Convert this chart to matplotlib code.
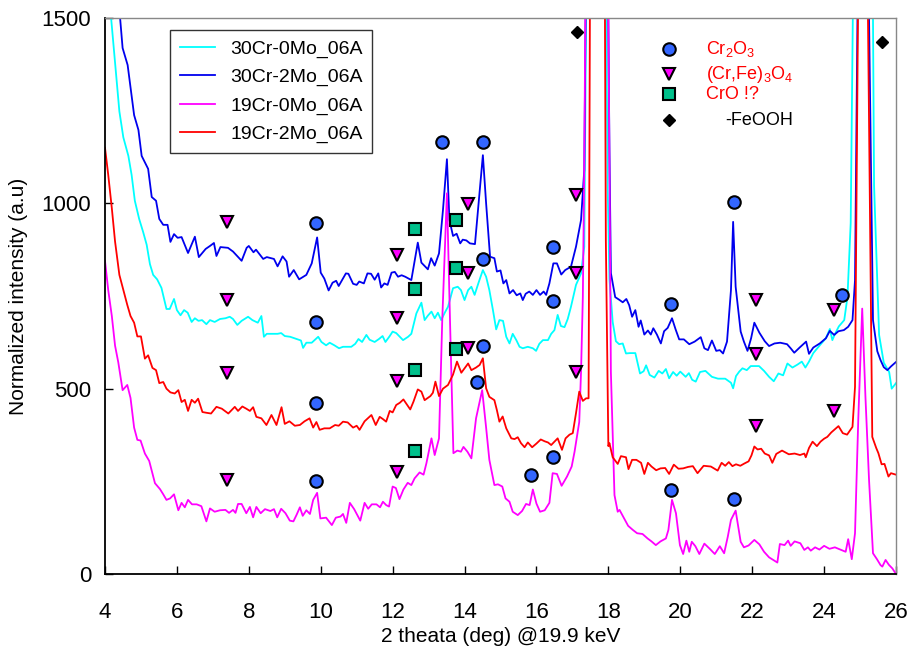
import matplotlib
matplotlib.use('Agg')
import matplotlib.pyplot as plt

plt.rcParams['font.family'] = ['Liberation Sans', 'DejaVu Sans']
plt.rcParams['mathtext.fontset'] = 'custom'
plt.rcParams['mathtext.rm'] = 'Liberation Sans'
plt.rcParams['mathtext.it'] = 'Liberation Sans:italic'

# ---------------- data ----------------
series_names = ['30Cr-0Mo_06A', '30Cr-2Mo_06A', '19Cr-0Mo_06A', '19Cr-2Mo_06A']
series_colors = ['#00FFFF', '#0000EE', '#FF00FF', '#FF0000']

# 30Cr-2Mo_06A (blue)
blue_x = [4.0, 4.25, 4.42, 4.49, 4.63, 4.81, 4.93, 5.02, 5.2, 5.3, 5.42, 5.51, 5.62, 5.74, 5.82, 5.92,
          6.02, 6.13, 6.31, 6.5, 6.61, 6.8, 6.92, 7.03, 7.1, 7.21, 7.42, 7.56, 7.8, 7.94, 8.0, 8.13,
          8.2, 8.4, 8.5, 8.7, 8.8, 8.94, 9.05, 9.12, 9.25, 9.4, 9.6, 9.75, 9.9, 10.0, 10.1, 10.22,
          10.33, 10.43, 10.5, 10.7, 10.77, 10.9, 11.0, 11.07, 11.2, 11.3, 11.4, 11.5, 11.6, 11.68,
          11.77, 11.86, 11.97, 12.06, 12.15, 12.25, 12.35, 12.52, 12.7, 12.8, 12.98, 13.07, 13.17,
          13.29, 13.4, 13.51, 13.58, 13.68, 13.78, 13.88, 13.95, 14.05, 14.15, 14.29, 14.39, 14.51,
          14.6, 14.71, 14.83, 14.9, 15.0, 15.08, 15.16, 15.25, 15.35, 15.45, 15.55, 15.62, 15.7,
          15.8, 15.9, 16.0, 16.1, 16.2, 16.27, 16.36, 16.47, 16.57, 16.69, 16.8, 16.96, 17.1, 17.24,
          17.33, 17.68, 18.03, 18.07, 18.19, 18.3, 18.4, 18.5, 18.58, 18.66, 18.75, 18.84, 18.9,
          19.0, 19.1, 19.18, 19.25, 19.35, 19.46, 19.55, 19.65, 19.77, 19.87, 19.97, 20.1, 20.25,
          20.4, 20.57, 20.67, 20.77, 20.88, 21.0, 21.1, 21.19, 21.3, 21.41, 21.47, 21.54, 21.68,
          21.77, 21.87, 21.97, 22.06, 22.2, 22.35, 22.47, 22.62, 22.78, 22.97, 23.07, 23.17, 23.32,
          23.5, 23.58, 23.7, 23.88, 24.05, 24.16, 24.28, 24.4, 24.55, 24.67, 24.79, 24.86, 24.93,
          25.08, 25.25, 25.36, 25.48, 25.57, 25.66, 25.76, 25.86, 26.0]
blue_y = [2300, 1800, 1500, 1419, 1373, 1238, 1198, 1128, 1093, 1017, 1007, 958, 942, 942, 896, 917,
          907, 909, 866, 910, 855, 877, 885, 893, 858, 882, 880, 870, 845, 880, 885, 868,
          875, 850, 855, 850, 830, 857, 843, 802, 820, 795, 807, 838, 908, 813, 797, 765,
          786, 791, 777, 811, 810, 783, 780, 789, 784, 811, 810, 794, 811, 773,
          784, 780, 813, 815, 802, 806, 802, 793, 894, 840, 822, 852, 832,
          865, 982, 1119, 955, 912, 918, 892, 902, 900, 892, 890, 1000, 1130,
          1000, 856, 852, 816, 819, 784, 793, 757, 766, 752, 757, 739, 756,
          762, 753, 766, 753, 762, 753, 784, 838, 838, 808, 820, 829, 883, 955,
          1090, 5000, 1147, 812, 747, 740, 733, 742, 725, 694, 712, 667, 684,
          646, 657, 646, 663, 646, 622, 655, 664, 690, 660, 633, 633, 620,
          627, 639, 609, 604, 630, 602, 604, 595, 627, 766, 950, 775, 654,
          627, 602, 636, 678, 651, 628, 615, 622, 624, 620, 609, 597, 611,
          627, 594, 611, 622, 636, 656, 645, 655, 658, 667, 685, 793, 1500,
          4000, 1500, 685, 601, 577, 558, 550, 560, 572]

# 30Cr-0Mo_06A (cyan)
cyan_x = [4.0, 4.17, 4.28, 4.4, 4.51, 4.65, 4.74, 4.83, 4.95, 5.06, 5.16, 5.25, 5.34, 5.45, 5.57, 5.71,
          5.8, 5.92, 6.0, 6.1, 6.2, 6.3, 6.41, 6.5, 6.6, 6.7, 6.82, 6.92, 7.05, 7.2, 7.35, 7.47,
          7.56, 7.68, 7.8, 7.98, 8.1, 8.25, 8.35, 8.42, 8.5, 8.65, 8.8, 8.9, 9.0, 9.15, 9.3, 9.45,
          9.51, 9.6, 9.75, 9.93, 10.02, 10.15, 10.25, 10.38, 10.51, 10.62, 10.85, 10.96, 11.05,
          11.15, 11.27, 11.36, 11.5, 11.62, 11.72, 11.8, 11.92, 12.0, 12.1, 12.29, 12.43, 12.52,
          12.66, 12.8, 12.89, 12.98, 13.08, 13.17, 13.26, 13.35, 13.45, 13.54, 13.68, 13.81, 13.9,
          14.0, 14.1, 14.19, 14.28, 14.39, 14.51, 14.6, 14.69, 14.79, 14.88, 14.97, 15.07, 15.16,
          15.25, 15.34, 15.44, 15.53, 15.62, 15.76, 15.9, 15.99, 16.08, 16.18, 16.32, 16.41, 16.5,
          16.59, 16.68, 16.78, 16.87, 16.96, 17.1, 17.24, 17.33, 17.66, 17.98, 18.03, 18.12, 18.21,
          18.3, 18.4, 18.49, 18.6, 18.75, 18.88, 18.98, 19.05, 19.15, 19.28, 19.4, 19.5, 19.6,
          19.69, 19.8, 19.9, 20.0, 20.15, 20.24, 20.33, 20.43, 20.55, 20.7, 20.88, 21.05, 21.25,
          21.41, 21.47, 21.55, 21.64, 21.73, 21.85, 21.96, 22.1, 22.19, 22.33, 22.47, 22.6, 22.73,
          22.86, 22.98, 23.12, 23.26, 23.38, 23.48, 23.58, 23.7, 23.88, 24.05, 24.16, 24.23, 24.3,
          24.41, 24.56, 24.65, 24.74, 24.8, 25.08, 25.36, 25.39, 25.53, 25.66, 25.81, 25.88, 26.0]
cyan_y = [2000, 1500, 1378, 1248, 1178, 1128, 1077, 1007, 958, 923, 888, 836, 807, 795, 772, 715,
          715, 742, 712, 698, 712, 705, 680, 690, 683, 685, 674, 685, 680, 688, 690, 694,
          688, 672, 683, 694, 685, 678, 696, 640, 648, 648, 648, 650, 642, 640, 635, 630,
          610, 624, 624, 640, 626, 617, 624, 617, 609, 613, 613, 621, 634,
          626, 645, 632, 626, 634, 642, 626, 642, 654, 650, 631, 640, 648,
          703, 732, 685, 697, 708, 690, 705, 685, 705, 721, 771, 775, 766,
          739, 766, 775, 753, 786, 820, 802, 766, 712, 660, 685, 683, 640,
          622, 648, 631, 613, 609, 613, 609, 602, 621, 631, 631, 648, 658,
          699, 669, 666, 688, 721, 780, 811, 883, 5000, 1047, 796, 680, 628,
          620, 622, 595, 596, 596, 541, 547, 563, 537, 530, 548, 541, 553,
          528, 545, 535, 546, 532, 542, 524, 519, 545, 548, 532, 527, 527,
          516, 501, 534, 546, 555, 550, 561, 561, 561, 548, 532, 520, 541,
          536, 568, 557, 565, 573, 557, 573, 596, 617, 636, 661, 631, 647,
          668, 685, 747, 947, 1500, 5000, 1500, 1047, 645, 570, 545, 500, 515]

# 19Cr-2Mo_06A (red)
red_x = [4.0, 4.09, 4.19, 4.28, 4.4, 4.51, 4.62, 4.71, 4.81, 4.9, 5.0, 5.11, 5.2, 5.32, 5.42, 5.51,
         5.62, 5.71, 5.82, 5.94, 6.04, 6.13, 6.22, 6.31, 6.41, 6.5, 6.59, 6.71, 6.82, 6.95, 7.1,
         7.25, 7.43, 7.61, 7.7, 7.82, 7.93, 8.03, 8.12, 8.21, 8.35, 8.49, 8.63, 8.77, 8.91, 9.0,
         9.13, 9.28, 9.42, 9.55, 9.69, 9.79, 9.88, 9.97, 10.1, 10.25, 10.4, 10.5, 10.62, 10.75,
         10.9, 11.0, 11.08, 11.22, 11.41, 11.53, 11.64, 11.73, 11.82, 11.92, 12.0, 12.1, 12.2,
         12.3, 12.49, 12.58, 12.7, 12.8, 12.89, 13.05, 13.12, 13.19, 13.29, 13.4, 13.54, 13.68,
         13.79, 13.91, 14.0, 14.1, 14.19, 14.32, 14.42, 14.51, 14.6, 14.69, 14.83, 14.9, 14.97,
         15.06, 15.16, 15.3, 15.39, 15.48, 15.57, 15.67, 15.76, 15.88, 16.0, 16.12, 16.23, 16.32,
         16.41, 16.59, 16.71, 16.81, 16.92, 17.01, 17.1, 17.19, 17.29, 17.38, 17.45, 17.68, 17.93,
         18.0, 18.03, 18.12, 18.26, 18.35, 18.49, 18.56, 18.66, 18.78, 18.91, 19.0, 19.1, 19.2,
         19.33, 19.45, 19.58, 19.69, 19.82, 19.95, 20.08, 20.22, 20.35, 20.48, 20.65, 20.85, 21.04,
         21.15, 21.25, 21.35, 21.45, 21.55, 21.67, 21.78, 21.9, 21.98, 22.06, 22.15, 22.25, 22.35,
         22.47, 22.56, 22.67, 22.83, 23.02, 23.18, 23.33, 23.45, 23.49, 23.58, 23.68, 23.8, 23.9,
         24.0, 24.09, 24.2, 24.33, 24.4, 24.52, 24.64, 24.79, 24.86, 24.95, 25.08, 25.21, 25.34,
         25.45, 25.51, 25.6, 25.68, 25.79, 25.86, 26.0]
red_y = [1150, 1077, 987, 897, 807, 766, 726, 696, 678, 641, 641, 581, 590, 556, 550, 515,
         518, 500, 490, 487, 496, 464, 470, 440, 470, 462, 473, 437, 435, 433, 451,
         446, 433, 451, 440, 452, 446, 440, 450, 424, 420, 402, 429, 402, 450, 405,
         412, 400, 402, 412, 420, 395, 410, 389, 393, 393, 402, 400, 411, 409,
         395, 400, 389, 412, 429, 402, 424, 418, 411, 440, 436, 456, 462,
         471, 444, 465, 498, 492, 469, 480, 489, 519, 480, 500, 510, 538,
         573, 543, 555, 568, 550, 557, 564, 582, 501, 478, 469, 442, 411,
         425, 393, 366, 364, 369, 353, 342, 355, 342, 352, 363, 358, 355,
         348, 366, 335, 366, 376, 380, 434, 492, 467, 474, 474, 7000, 900,
         345, 353, 315, 297, 318, 315, 283, 308, 308, 300, 270, 300, 290,
         280, 285, 286, 270, 295, 284, 285, 289, 291, 272, 292, 290, 279,
         300, 292, 302, 291, 296, 292, 298, 304, 320, 344, 336, 338, 325,
         320, 300, 324, 333, 323, 325, 321, 325, 315, 340, 357, 345, 357,
         365, 370, 382, 393, 399, 380, 376, 397, 505, 1600, 6000, 1600, 370,
         340, 326, 296, 297, 263, 272, 268]

# 19Cr-0Mo_06A (magenta)
mag_x = [4.0, 4.09, 4.19, 4.28, 4.37, 4.49, 4.62, 4.71, 4.81, 4.9, 4.99, 5.11, 5.23, 5.39, 5.53, 5.62,
         5.71, 5.81, 5.92, 6.04, 6.13, 6.22, 6.31, 6.42, 6.55, 6.68, 6.82, 6.92, 7.05, 7.2, 7.35,
         7.45, 7.56, 7.63, 7.7, 7.8, 7.93, 8.03, 8.12, 8.21, 8.33, 8.45, 8.6, 8.7, 8.79, 8.9, 9.02,
         9.14, 9.24, 9.33, 9.42, 9.5, 9.6, 9.7, 9.79, 9.9, 9.99, 10.15, 10.31, 10.42, 10.55, 10.62,
         10.71, 10.81, 10.93, 11.03, 11.1, 11.22, 11.32, 11.42, 11.55, 11.65, 11.73, 11.82, 11.9,
         12.0, 12.09, 12.19, 12.3, 12.42, 12.52, 12.61, 12.75, 12.86, 12.94, 13.08, 13.17, 13.29,
         13.38, 13.51, 13.6, 13.69, 13.8, 13.9, 13.97, 14.08, 14.19, 14.32, 14.49, 14.6, 14.69,
         14.83, 14.93, 15.05, 15.14, 15.25, 15.34, 15.48, 15.6, 15.71, 15.81, 15.9, 16.0, 16.1,
         16.23, 16.36, 16.45, 16.57, 16.7, 16.85, 16.98, 17.06, 17.19, 17.24, 17.29, 17.33, 17.68,
         18.07, 18.17, 18.26, 18.31, 18.44, 18.55, 18.68, 18.8, 18.95, 19.09, 19.2, 19.32, 19.45,
         19.6, 19.67, 19.77, 19.88, 19.99, 20.08, 20.17, 20.25, 20.32, 20.42, 20.53, 20.67, 20.82,
         20.96, 21.1, 21.22, 21.32, 21.41, 21.54, 21.68, 21.77, 21.9, 22.06, 22.2, 22.33, 22.47,
         22.62, 22.7, 22.77, 22.9, 23.0, 23.07, 23.18, 23.34, 23.45, 23.55, 23.63, 23.75, 23.87,
         24.0, 24.15, 24.3, 24.45, 24.6, 24.67, 24.77, 24.86, 24.95, 25.06, 25.15, 25.25, 25.36,
         25.47, 25.57, 25.62, 25.71, 25.8, 25.9, 26.0]
mag_y = [845, 766, 696, 616, 571, 496, 510, 475, 395, 362, 360, 325, 305, 245, 229, 215,
         200, 204, 215, 172, 192, 180, 200, 188, 188, 183, 142, 177, 168, 172, 173,
         165, 173, 165, 189, 189, 164, 181, 153, 181, 164, 175, 170, 175, 153, 176, 164,
         144, 142, 160, 180, 157, 172, 162, 200, 219, 150, 152, 132, 152, 155, 162,
         138, 192, 175, 157, 144, 192, 176, 188, 188, 180, 195, 186, 182,
         236, 232, 202, 228, 246, 240, 258, 274, 268, 299, 366, 321, 366,
         685, 1027, 667, 326, 333, 330, 343, 330, 312, 420, 496, 395, 308,
         240, 242, 236, 204, 195, 168, 159, 170, 189, 186, 228, 190, 168,
         172, 192, 272, 270, 238, 263, 290, 330, 410, 545, 747, 1097, 6000,
         545, 213, 168, 173, 150, 130, 119, 110, 108, 96, 88, 78, 88,
         96, 119, 200, 164, 78, 54, 90, 60, 87, 75, 54, 82, 68,
         54, 75, 56, 100, 146, 171, 87, 72, 77, 92, 80, 60, 45,
         36, 31, 81, 78, 90, 76, 88, 83, 65, 72, 63, 72, 66,
         76, 68, 72, 66, 60, 94, 40, 110, 415, 716, 478, 254, 56,
         40, 24, 20, 38, 25, 15, 0]

# phase markers (peak identification)
cr2o3_x = [9.86, 13.36, 14.5, 16.47, 16.47, 14.5, 9.86, 9.86, 14.5, 14.36, 15.86, 16.47, 9.86,
           21.5, 19.75, 24.5, 19.75, 21.5]
cr2o3_y = [947, 1166, 1166, 882, 737, 850, 680, 462, 614, 517, 267, 316, 250,
           1003, 728, 753, 226, 202]
spinel_x = [7.38, 7.38, 7.38, 7.38, 12.11, 12.11, 12.11, 12.11, 14.11, 14.11, 14.11,
            17.11, 17.11, 17.11, 22.11, 22.11, 22.11, 24.27, 24.27]
spinel_y = [949, 738, 543, 253, 861, 690, 521, 275, 997, 811, 610,
            1023, 811, 545, 738, 593, 400, 712, 440]
cro_x = [12.62, 13.75, 13.75, 12.62, 13.75, 12.62, 12.62]
cro_y = [930, 956, 825, 768, 606, 550, 331]
feooh_x = [17.14, 25.6]
feooh_y = [1461, 1434]

phase_labels = [r'Cr$_{\mathregular{2}}$O$_{\mathregular{3}}$',
                r'(Cr,Fe)$_{\mathregular{3}}$O$_{\mathregular{4}}$',
                'CrO !?', '-FeOOH']

# ---------------- plot ----------------
fig = plt.figure(figsize=(9.09, 6.52), dpi=100)
ax = fig.add_axes([0.1155, 0.1196, 0.8702, 0.8528])

data = [(cyan_x, cyan_y), (blue_x, blue_y), (mag_x, mag_y), (red_x, red_y)]
for (x, y), c, name in zip(data, series_colors, series_names):
    ax.plot(x, y, color=c, lw=1.3, label=name)

circ_c = '#3366FF'
tri_c = '#FF00FF'
sq_c = '#00C08B'
ax.plot(cr2o3_x, cr2o3_y, ls='none', marker='o', ms=9, mfc=circ_c, mec='black', mew=1.5, zorder=5)
ax.plot(spinel_x, spinel_y, ls='none', marker='v', ms=9, mfc=tri_c, mec='black', mew=1.5, zorder=5)
ax.plot(cro_x, cro_y, ls='none', marker='s', ms=8.5, mfc=sq_c, mec='black', mew=1.5, zorder=5)
ax.plot(feooh_x, feooh_y, ls='none', marker='D', ms=6.5, mfc='black', mec='black', zorder=5)

# phase key (top right)
key_x = 0.7134
key_ys = [0.9437, 0.899, 0.863, 0.8165]
key_styles = [dict(marker='o', ms=9, mfc=circ_c, mec='black', mew=1.5),
              dict(marker='v', ms=9, mfc=tri_c, mec='black', mew=1.5),
              dict(marker='s', ms=8.5, mfc=sq_c, mec='black', mew=1.5),
              dict(marker='D', ms=6.5, mfc='black', mec='black')]
for ky, st in zip(key_ys, key_styles):
    ax.plot([key_x], [ky], transform=ax.transAxes, ls='none', clip_on=False, zorder=6, **st)
text_cols = ['#FF0000', '#FF0000', '#FF0000', 'black']
text_xs = [0.7594, 0.7594, 0.7594, 0.7847]
for lbl, ky, tc, tx in zip(phase_labels, key_ys, text_cols, text_xs):
    ax.text(tx, ky, lbl, transform=ax.transAxes, color=tc, fontsize=13, va='center', ha='left')

ax.set_xlim(4, 26)
ax.set_ylim(0, 1500)
ax.set_xticks(range(4, 27, 2))
ax.set_yticks([0, 500, 1000, 1500])
ax.tick_params(direction='in', length=6, width=1, labelsize=16, top=False, right=False)
ax.tick_params(axis='x', pad=20)
ax.tick_params(axis='y', pad=10)
for s in ['left', 'bottom']:
    ax.spines[s].set_color('black')
    ax.spines[s].set_linewidth(1.3)
for s in ['top', 'right']:
    ax.spines[s].set_color('#888888')
    ax.spines[s].set_linewidth(1.0)

ax.set_xlabel('2 theata (deg) @19.9 keV', fontsize=15, labelpad=3)
ax.set_ylabel('Normalized intensity (a.u)', fontsize=15, labelpad=10)

leg = ax.legend(loc='upper left', bbox_to_anchor=(0.082, 0.978), fontsize=14, frameon=True,
                fancybox=False, edgecolor='black', handlelength=1.8, borderpad=0.5,
                labelspacing=0.55, borderaxespad=0)
leg.get_frame().set_linewidth(1.0)

fig.savefig('out.png', dpi=100)
